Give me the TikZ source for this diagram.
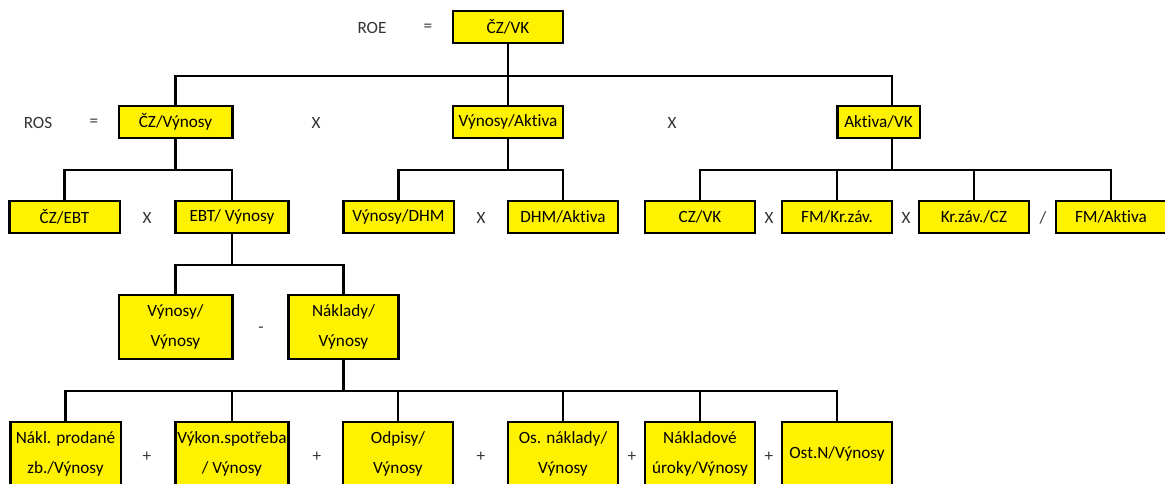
\documentclass[tikz,border=0pt]{standalone}
\usepackage{fontspec}
\setmainfont[Ligatures=NoCommon]{Carlito}
\usepackage{tikz}

\begin{document}
\begin{tikzpicture}[x=0.75pt,y=-0.75pt,font=\fontsize{12.9}{23}\selectfont,
  box/.style={draw=black,line width=2pt,fill=yellow,minimum width=82.5pt,minimum height=24pt,inner sep=0pt,align=center},
  tallbox/.style={box,minimum height=48pt},
  op/.style={inner sep=0pt,text=black!80},
  link/.style={line width=1.6pt}]
  \useasboundingbox (0,0) rectangle (1165,484);
  % top
  \node[op] (roe) at (372,28) {ROE};
  \node[op] (roeeq) at (428,28) {=};
  \node[box] (cz) at (508,27) {ČZ/VK};
  % level 2
  \node[op] (ros) at (38,123) {ROS};
  \node[op] (roseq) at (94,123) {=};
  \node[box,minimum width=85pt] (czvyn) at (175.5,122) {ČZ/Výnosy};
  \node[op] (x1) at (316,123) {X};
  \node[box] (vynakt) at (508,122) {Výnosy/Aktiva};
  \node[op] (x2) at (672,123) {X};
  \node[box,minimum width=62pt] (aktvk) at (878.5,122) {Aktiva/VK};
  % level 3
  \node[box,minimum width=83pt] (czebt) at (64.5,217) {ČZ/EBT};
  \node[op] (x3) at (147,218) {X};
  \node[box,minimum width=85pt] (ebtvyn) at (232,217) {EBT/ Výnosy};
  \node[box,minimum width=83pt] (vyndhm) at (398.5,217) {Výnosy/DHM};
  \node[op] (x4) at (481,218) {X};
  \node[box] (dhmakt) at (563,217) {DHM/Aktiva};
  \node[box] (czvk) at (700,217) {CZ/VK};
  \node[op] (x5) at (769,218) {X};
  \node[box] (fmkr) at (837,217) {FM/Kr.záv.};
  \node[op] (x6) at (906,218) {X};
  \node[box] (krcz) at (974,217) {Kr.záv./CZ};
  \node[op] (div) at (1043,218) {/};
  \node[box] (fmakt) at (1111,217) {FM/Aktiva};
  % level 4
  \node[tallbox,minimum width=85pt] (vynvyn) at (175.5,327) {Výnosy/\\Výnosy};
  \node[op] (minus) at (261,330) {-};
  \node[tallbox] (nakvyn) at (343.5,327) {Náklady/\\Výnosy};
  % level 5
  \node[tallbox,minimum width=83pt] (naklprod) at (65.5,454) {Nákl. prodané\\zb./Výnosy};
  \node[tallbox,minimum width=85pt] (vykon) at (232,454) {Výkon.spotřeba\\/ Výnosy};
  \node[tallbox] (odpisy) at (398,454) {Odpisy/\\Výnosy};
  \node[tallbox] (osnakl) at (563,454) {Os. náklady/\\Výnosy};
  \node[tallbox] (nakluroky) at (700,454) {Nákladové\\úroky/Výnosy};
  \node[tallbox] (ostn) at (837,454) {Ost.N/Výnosy};
  \foreach \x in {147,317,481,632,769} \node[op] (plus\x) at (\x,457) {+};

  % connectors
  \draw[link] (cz.south) -- ++(0,32) -| (czvyn.north);
  \draw[link] (cz.south) -- (vynakt.north);
  \draw[link] (cz.south) -- ++(0,32) -| ([xshift=10pt]aktvk.north);
  \foreach \n in {czebt,ebtvyn} \draw[link] (czvyn.south) -- ++(0,31) -| (\n.north);
  \foreach \n in {vyndhm,dhmakt} \draw[link] (vynakt.south) -- ++(0,31) -| (\n.north);
  \foreach \n in {czvk,fmkr,krcz,fmakt} \draw[link] ([xshift=10pt]aktvk.south) -- ++(0,31) -| (\n.north);
  \foreach \n in {vynvyn,nakvyn} \draw[link] (ebtvyn.south) -- ++(0,31) -| (\n.north);
  \foreach \n in {naklprod,vykon,odpisy,osnakl,nakluroky,ostn} \draw[link] (nakvyn.south) -- ++(0,31) -| (\n.north);
\end{tikzpicture}
\end{document}
